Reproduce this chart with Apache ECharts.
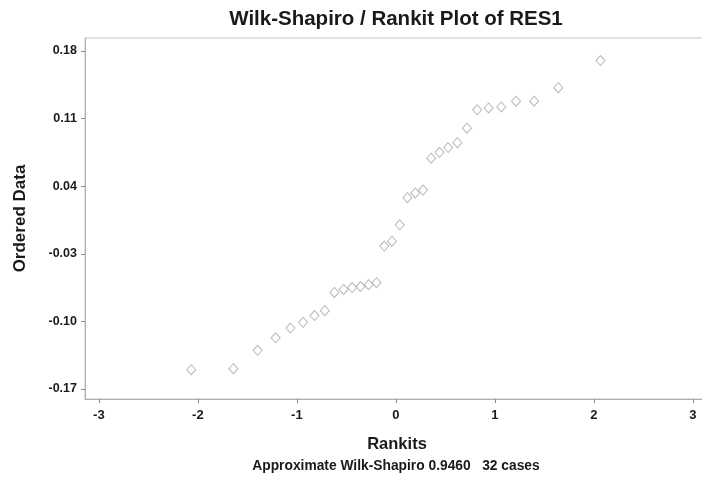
<!DOCTYPE html>
<html>
<head>
<meta charset="utf-8">
<script src="https://cdn.jsdelivr.net/npm/echarts@6/dist/echarts.min.js"></script>
<style>html,body{margin:0;padding:0;background:#fff;}#c{width:702px;height:480px;}</style>
</head>
<body>
<div id="c"></div>
<script>
const rankits = [-2.067,-1.641,-1.396,-1.214,-1.065,-0.937,-0.822,-0.718,-0.621,-0.528,-0.441,-0.357,-0.275,-0.196,-0.117,-0.039,
                 0.039,0.117,0.196,0.275,0.357,0.441,0.528,0.621,0.718,0.822,0.937,1.065,1.214,1.396,1.641,2.067];
const orderedData = [-0.150,-0.149,-0.130,-0.117,-0.107,-0.101,-0.094,-0.089,-0.070,-0.067,-0.065,-0.064,-0.062,-0.060,-0.022,-0.017,
                     0.000,0.028,0.033,0.036,0.069,0.075,0.080,0.085,0.100,0.119,0.121,0.122,0.128,0.128,0.142,0.170];
const xTicks = [-3,-2,-1,0,1,2,3];
const yTicks = [-0.17,-0.10,-0.03,0.04,0.11,0.18];
const titleText = 'Wilk-Shapiro / Rankit Plot of RES1';
const subText = 'Approximate Wilk-Shapiro 0.9460   32 cases';

const chart = echarts.init(document.getElementById('c'), null, {renderer:'canvas'});
const font = 'Liberation Sans, Arial, sans-serif';
chart.setOption({
  animation:false,
  backgroundColor:'#fff',
  title:[
    {text:titleText, left:396, top:9, textAlign:'center', padding:0,
     textStyle:{fontFamily:font, fontSize:20.5, fontWeight:'bold', color:'#1a1a1a'}},
    {text:subText, left:396, top:459, textAlign:'center', padding:0,
     textStyle:{fontFamily:font, fontSize:13.8, fontWeight:'bold', color:'#1a1a1a'}}
  ],
  grid:{left:85, top:38, width:624, height:361, show:true, borderColor:'#c4c4c4', borderWidth:1,
        outerBoundsMode:'none', containLabel:false},
  xAxis:{
    type:'value', min:-3.14, max:3.163,
    name:'Rankits', nameLocation:'middle', nameGap:37,
    nameTextStyle:{fontFamily:font, fontSize:16.5, fontWeight:'bold', color:'#1a1a1a'},
    axisLine:{show:true, onZero:false, lineStyle:{color:'#b0b0b0'}},
    axisTick:{show:true, length:4, customValues:xTicks, lineStyle:{color:'#888'}},
    axisLabel:{customValues:xTicks, margin:10, fontFamily:font, fontSize:13, fontWeight:'bold', color:'#1a1a1a',
               formatter:v=>String(Math.round(v))},
    splitLine:{show:false}
  },
  yAxis:{
    type:'value', min:-0.1804, max:0.1934,
    name:'Ordered Data', nameLocation:'middle', nameGap:56, nameRotate:90,
    nameTextStyle:{fontFamily:font, fontSize:17, fontWeight:'bold', color:'#1a1a1a'},
    axisLine:{show:true, onZero:false, lineStyle:{color:'#b0b0b0'}},
    axisTick:{show:true, length:4, customValues:yTicks, lineStyle:{color:'#888'}},
    axisLabel:{customValues:yTicks, margin:8, fontFamily:font, fontSize:12.5, fontWeight:'bold', color:'#1a1a1a',
               formatter:v=>v.toFixed(2)},
    splitLine:{show:false}
  },
  series:[{
    type:'scatter',
    data:rankits.map((x,i)=>[x, orderedData[i]]),
    symbol:'diamond', symbolSize:[9,10],
    itemStyle:{color:'rgba(255,255,255,0)', borderColor:'#a8a8a8', borderWidth:1}
  }]
});
</script>
</body>
</html>
